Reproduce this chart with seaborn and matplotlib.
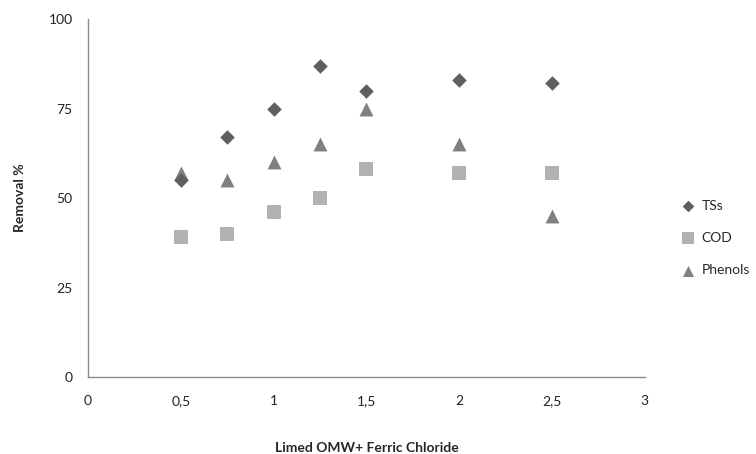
import pandas as pd
import numpy as np
import matplotlib
matplotlib.use('Agg')
import matplotlib.pyplot as plt
import seaborn as sns

# data
dose = [0.5, 0.75, 1, 1.25, 1.5, 2, 2.5]
tss = [55, 67, 75, 87, 80, 83, 82]
cod = [39, 40, 46, 50, 58, 57, 57]
phenols = [57, 55, 60, 65, 75, 65, 45]
series = ['TSs', 'COD', 'Phenols']
xticks = [0, 0.5, 1, 1.5, 2, 2.5, 3]
xtick_labels = ['0', '0,5', '1', '1,5', '2', '2,5', '3']
yticks = [0, 25, 50, 75, 100]

df = pd.DataFrame({'dose': dose * 3,
                   'removal': tss + cod + phenols,
                   'series': np.repeat(series, len(dose))})

sns.set_style('white')
plt.rcParams['font.family'] = ['Lato', 'DejaVu Sans']

fig = plt.figure(figsize=(7.56, 4.54), dpi=100)
ax = fig.add_axes([0.1164, 0.1696, 0.7366, 0.7885])

colors = {'TSs': '#5f5f5f', 'COD': '#b2b2b2', 'Phenols': '#808080'}
markers = {'TSs': 'D', 'COD': 's', 'Phenols': '^'}
sizes = {'TSs': 55, 'COD': 100, 'Phenols': 100}
# TSs drawn last so its diamond sits on top at 0.5
for s in ['COD', 'Phenols', 'TSs']:
    sub = df[df['series'] == s]
    sns.scatterplot(data=sub, x='dose', y='removal', marker=markers[s],
                    color=colors[s], s=sizes[s], linewidth=0, ax=ax, label=s)

ax.set_xlim(0, 3)
ax.set_ylim(0, 100)
ax.set_xticks(xticks)
ax.set_xticklabels(xtick_labels)
ax.set_yticks(yticks)
for side in ['top', 'right']:
    ax.spines[side].set_visible(False)
for side in ['left', 'bottom']:
    ax.spines[side].set_color('#8c8c8c')
    ax.spines[side].set_linewidth(1)
ax.tick_params(axis='both', direction='out', length=5, width=1, color='#8c8c8c',
               labelsize=10, labelcolor='#222222', pad=8)
ax.tick_params(axis='y', pad=6)

ax.set_xlabel('Limed OMW+ Ferric Chloride', fontsize=10, fontweight='bold', labelpad=25)
ax.set_ylabel('Removal %', fontsize=10, fontweight='bold', labelpad=16)

handles, labels = ax.get_legend_handles_labels()
order = [labels.index(s) for s in series]
ax.legend([handles[i] for i in order], series, loc='center left',
          bbox_to_anchor=(1.03, 0.388), frameon=False, fontsize=10,
          handletextpad=0.0, labelspacing=1.45, markerscale=0.8)

fig.savefig('out.png', dpi=100)
